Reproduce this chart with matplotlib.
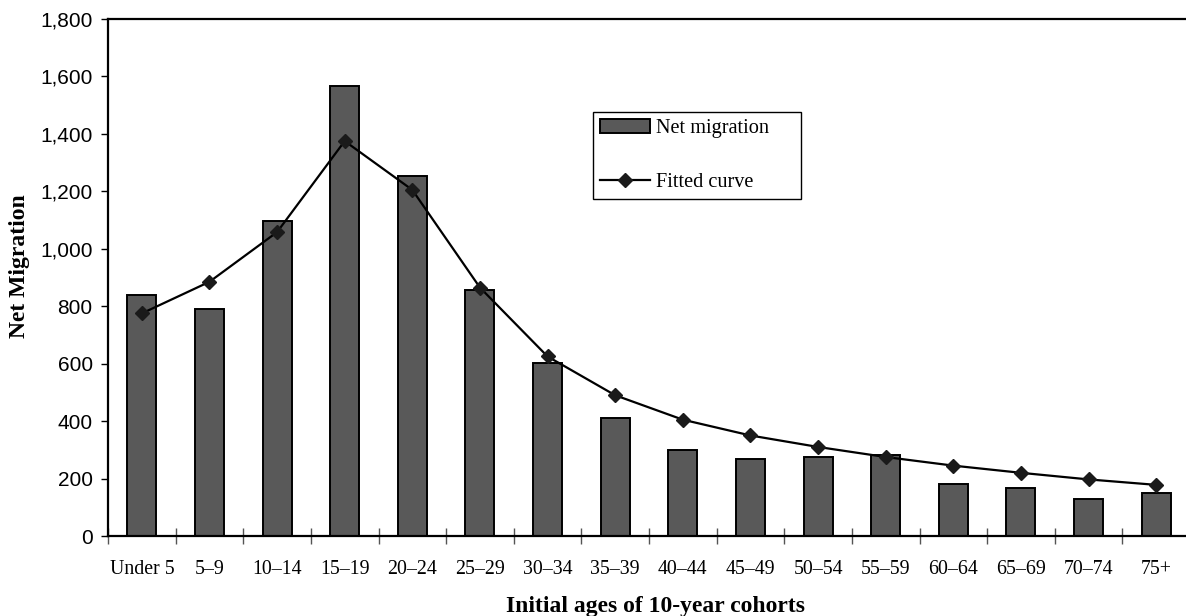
import matplotlib
matplotlib.use("Agg")
import matplotlib.pyplot as plt
import numpy as np
from matplotlib.patches import Patch
from matplotlib.lines import Line2D
from matplotlib.ticker import FuncFormatter, FixedLocator, NullFormatter

categories = ["Under 5", "5\u20139", "10\u201314", "15\u201319", "20\u201324", "25\u201329",
              "30\u201334", "35\u201339", "40\u201344", "45\u201349", "50\u201354", "55\u201359",
              "60\u201364", "65\u201369", "70\u201374", "75+"]
net_migration = [840, 790, 1095, 1565, 1252, 857, 603, 410, 298, 268, 275, 283, 182, 168, 128, 150]
fitted_curve = [775, 885, 1058, 1375, 1205, 865, 625, 490, 405, 350, 310, 275, 245, 220, 197, 178]
y_ticks = [0, 200, 400, 600, 800, 1000, 1200, 1400, 1600, 1800]

serif = "Liberation Serif"
sans = "Liberation Sans"
bar_color = "#595959"

W, H = 1186, 616
fig = plt.figure(figsize=(W / 100, H / 100), dpi=100)
fig.patch.set_facecolor("white")
ax = fig.add_axes([108 / W, 1 - 536 / H, (1190 - 108) / W, (536 - 19) / H])

x = np.arange(len(categories))
ax.bar(x, net_migration, width=0.43, color=bar_color, edgecolor="black", linewidth=1.4, zorder=2)
ax.plot(x, fitted_curve, color="black", linewidth=1.6, marker="D", markersize=7,
        markerfacecolor="#1a1a1a", markeredgecolor="#1a1a1a", zorder=4)

ax.set_xlim(-0.5, len(categories) - 0.5)
ax.set_ylim(0, 1800)
ax.set_yticks(y_ticks)
ax.yaxis.set_major_formatter(FuncFormatter(lambda v, p: f"{int(v):,}"))
for lbl in ax.get_yticklabels():
    lbl.set_fontfamily(sans)
    lbl.set_fontsize(15)
ax.tick_params(axis="y", direction="out", length=5, width=1, pad=6, color="black")

ax.xaxis.set_major_locator(FixedLocator(np.arange(len(categories) + 1) - 0.5))
ax.xaxis.set_major_formatter(NullFormatter())
ax.xaxis.set_minor_locator(FixedLocator(x))
ax.set_xticklabels(categories, minor=True, fontfamily=serif, fontsize=14.3)
ax.tick_params(axis="x", which="major", direction="inout", length=12, width=1, color="#555555")
ax.tick_params(axis="x", which="minor", length=0, pad=17)

for s in ["left", "bottom", "top"]:
    ax.spines[s].set_linewidth(1.6)
    ax.spines[s].set_color("black")
ax.spines["right"].set_visible(False)

fig.text(19.5 / W, 1 - 266 / H, "Net Migration", rotation=90, ha="center", va="center",
         fontfamily=serif, fontweight="bold", fontsize=17)
fig.text(655 / W, 1 - 612 / H, "Initial ages of 10-year cohorts", ha="center", va="baseline",
         fontfamily=serif, fontweight="bold", fontsize=17)

handles = [Patch(facecolor=bar_color, edgecolor="black", linewidth=1.4),
           Line2D([0], [0], color="black", linewidth=1.6, marker="D", markersize=7,
                  markerfacecolor="#1a1a1a", markeredgecolor="#1a1a1a")]
leg = fig.legend(handles, ["Net migration", "Fitted curve"], loc="upper left", mode="expand",
                 bbox_to_anchor=(593 / W, 1 - 202 / H, 208 / W, 90 / H), bbox_transform=fig.transFigure,
                 prop={"family": serif, "size": 14.6}, frameon=True, fancybox=False,
                 edgecolor="black", framealpha=1, labelspacing=1.7, handlelength=2.45,
                 handletextpad=0.3, borderpad=0.35, borderaxespad=0)
leg.get_frame().set_linewidth(1.0)

fig.savefig("out.png", dpi=100, facecolor="white")
